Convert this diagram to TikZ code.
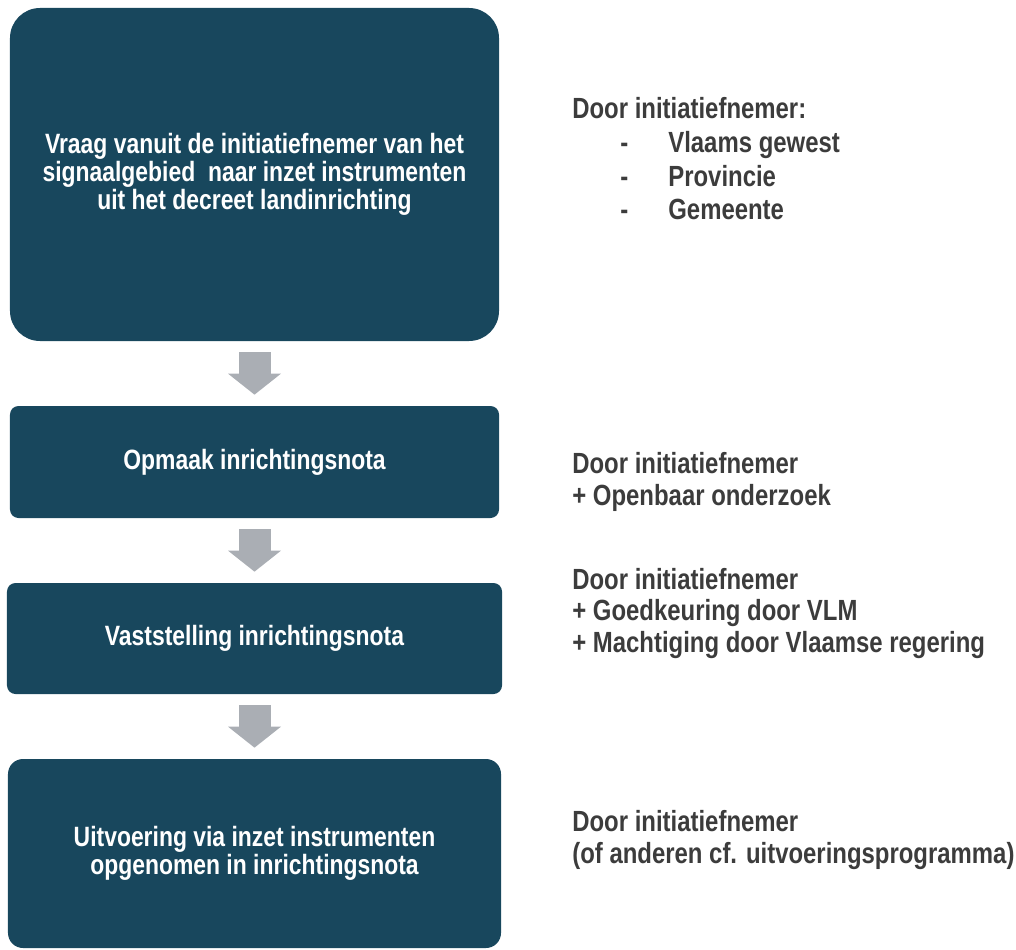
\documentclass[tikz,border=0pt]{standalone}
\usepackage{fontspec}
\setmainfont{Liberation Sans}[FakeStretch=0.82]
\usepackage{tikz}
\usetikzlibrary{arrows.meta, positioning, calc}
\newcommand{\boxtextfont}{\fontsize{15.9}{16}\selectfont\bfseries}
\newcommand{\sidetextfont}{\fontsize{16.6}{18}\selectfont\bfseries}
\tikzstyle{stepbox} = [fill=boxcolor, text=white, font=\boxtextfont, align=center, inner sep=0pt, rounded corners=0.17cm]
\tikzstyle{sidenote} = [anchor=base west, align=left, inner sep=0pt, text=notecolor, font=\sidetextfont]
\tikzstyle{blockarrow} = [line width=0.64cm, draw=arrowcolor, -{Triangle[length=0.42cm, width=1.06cm, line width=0pt]}, shorten <=0.22cm, shorten >=0.22cm]

\begin{document}
\begin{tikzpicture}
\definecolor{boxcolor}{RGB}{24,71,93}
\definecolor{arrowcolor}{RGB}{170,174,180}
\definecolor{notecolor}{RGB}{60,60,60}

\useasboundingbox (0,0) rectangle (20.32,-19);

% Steps of the procedure
\node[stepbox, minimum width=9.78cm, minimum height=6.66cm, rounded corners=0.6cm] (vraag) at (5.09,-3.49)
    {Vraag vanuit de initiatiefnemer van het\\ signaalgebied~ naar inzet instrumenten\\ uit het decreet landinrichting};
\node[stepbox, minimum width=9.78cm, minimum height=2.24cm] (opmaak) at (5.09,-9.24) {Opmaak inrichtingsnota};
\node[stepbox, minimum width=9.9cm, minimum height=2.22cm] (vaststelling) at (5.09,-12.77) {Vaststelling inrichtingsnota};
\node[stepbox, minimum width=9.86cm, minimum height=3.78cm, rounded corners=0.3cm] (uitvoering) at (5.09,-17.07)
    {Uitvoering via inzet instrumenten\\ opgenomen in inrichtingsnota};

% Arrows between the steps
\draw[blockarrow] (vraag.south) -- (opmaak.north);
\draw[blockarrow] (opmaak.south) -- (vaststelling.north);
\draw[blockarrow] (vaststelling.south) -- (uitvoering.north);

% Who does what (base = last line)
\node[sidenote, font={\fontsize{16.6}{19.3}\selectfont\bfseries}] (vraagnote) at (11.44,-4.40)
    {Door initiatiefnemer:\\
     \hspace*{0.96cm}\makebox[0.96cm][l]{-}Vlaams gewest\\
     \hspace*{0.96cm}\makebox[0.96cm][l]{-}Provincie\\
     \hspace*{0.96cm}\makebox[0.96cm][l]{-}Gemeente};
\node[sidenote] (opmaaknote) at (11.44,-10.10) {Door initiatiefnemer\\ + Openbaar onderzoek};
\node[sidenote] (vaststellingnote) at (11.44,-13.05)
    {Door initiatiefnemer\\ + Goedkeuring door VLM\\ + Machtiging door Vlaamse regering};
\node[sidenote] (uitvoeringnote) at (11.44,-17.26)
    {Door initiatiefnemer\\ (of anderen cf. uitvoeringsprogramma)};

\end{tikzpicture}
\end{document}
